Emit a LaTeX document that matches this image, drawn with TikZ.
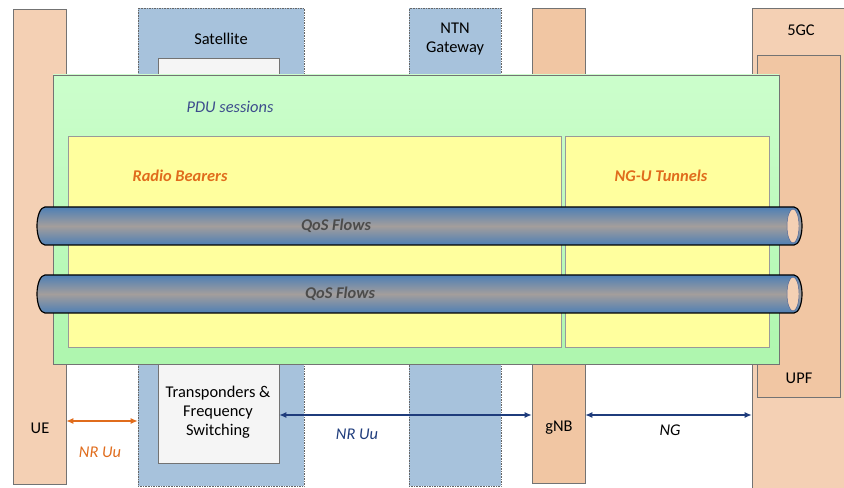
\documentclass[tikz,border=0pt]{standalone}
\usepackage{fontspec}
\setmainfont{Carlito}
\usetikzlibrary{fit}
\usetikzlibrary{arrows.meta}
\usetikzlibrary{shadows}

\definecolor{peach}{HTML}{F4D0B4}
\definecolor{peachdark}{HTML}{F1C6A3}
\definecolor{satblue}{HTML}{A7C2DC}
\definecolor{pdugreen}{HTML}{CCFECC}
\definecolor{pdugreendark}{HTML}{AEF6AE}
\definecolor{bearyellow}{HTML}{FFFF9E}
\definecolor{tubeblue}{HTML}{4E7FB5}
\definecolor{tubegrey}{HTML}{A39E9C}
\definecolor{labelorange}{HTML}{E06C1C}
\definecolor{navy}{HTML}{1F3C7C}
\definecolor{pdutext}{HTML}{3C4B8C}

\begin{document}
\begin{tikzpicture}[x=0.03cm, y=0.03cm,
    txt/.style={font=\fontsize{14}{16}\selectfont, align=center, inner sep=1pt},
    nebox/.style={draw=black!55, inner sep=0pt, drop shadow={shadow xshift=1pt, shadow yshift=-1pt, fill=black!45, opacity=0.7}},
    satbox/.style={draw=black!60, densely dotted, fill=satblue, inner sep=0pt},
    bearbox/.style={draw=black!40, fill=bearyellow, inner sep=0pt},
    tube/.style={draw=black, line width=1pt, top color=tubeblue, bottom color=tubeblue, middle color=tubegrey},
    itl/.style={font=\fontsize{14}{16}\selectfont\itshape, inner sep=1pt},
    hdr/.style={font=\fontsize{14}{16}\selectfont\bfseries\itshape, text=labelorange, inner sep=1pt},
    flow/.style={font=\fontsize{14}{16}\selectfont\bfseries\itshape, text=black!70, inner sep=1pt},
    link/.style={arrows={Latex[length=6pt,width=5pt]-Latex[length=6pt,width=5pt]}, line width=1pt}]
    \useasboundingbox (0,0) rectangle (844,-488);

    % network elements
    \node [nebox, fill=peach, fit={(13,-9) (66,-484)}] (ue) {};
    \node [satbox, fit={(138,-8) (304,-486)}] (sat) {};
    \node [satbox, fit={(409,-8) (501,-486)}] (gw) {};
    \node [nebox, fill=peachdark, fit={(532,-8) (585,-483)}] (gnb) {};
    \node [nebox, fill=peach, fit={(752,-8) (850,-495)}] (core) {};
    \node [nebox, fill=peachdark, fit={(757,-55) (840,-397)}] (upf) {};
    \node [nebox, fill=black!4, fit={(158,-58) (279,-463)}] (trans) {};

    \node [txt] (uetxt) at (40,-428) {UE};
    \node [txt] (sattxt) at (221,-39) {Satellite};
    \node [txt] (gwtxt) at (455,-39) {NTN\\Gateway};
    \node [txt] (gnbtxt) at (559,-428) {gNB};
    \node [txt] (coretxt) at (801,-30) {5GC};
    \node [txt] (upftxt) at (799,-378) {UPF};
    \node [txt] (transtxt) at (218,-412) {Transponders \&\\Frequency\\Switching};

    % PDU session and bearers
    \node [draw=black!55, inner sep=0pt, top color=pdugreen, bottom color=pdugreendark, fit={(53,-75) (779,-364)}] (pdu) {};
    \node [itl, text=pdutext] (pdutxt) at (230,-107) {PDU sessions};
    \node [bearbox, fit={(68,-136) (561,-347)}] (rb) {};
    \node [bearbox, fit={(565,-136) (769,-347)}] (ngu) {};
    \node [hdr] (rbtxt) at (180,-176) {Radio Bearers};
    \node [hdr] (ngutxt) at (661,-176) {NG-U Tunnels};

    % QoS flow tubes
    \foreach \y/\lx/\n in {226/336/1, 294/340/2} {
        \path [tube] (45,-\y+19) -- (794,-\y+19) arc [start angle=90, end angle=-90, x radius=8, y radius=19] -- (45,-\y-19) arc [start angle=270, end angle=90, x radius=8, y radius=19] -- cycle;
        \draw [draw=navy!80, fill=peach] (793,-\y) ellipse [x radius=6, y radius=17];
        \node [flow] (qos\n) at (\lx,-\y) {QoS Flows};
    }

    % interfaces
    \coordinate (uuy) at (0,-421);
    \coordinate (ngy) at (0,-415);
    \draw [link, draw=labelorange] (ue.east |- uuy) -- (sat.west |- uuy);
    \draw [link, draw=navy] (trans.east |- ngy) -- (gnb.west |- ngy);
    \draw [link, draw=navy] (gnb.east |- ngy) -- (core.west |- ngy);
    \node [itl, text=labelorange] (uutxt) at (100,-452) {NR Uu};
    \node [itl, text=navy] (nrtxt) at (357,-434) {NR Uu};
    \node [itl] (ngtxt) at (670,-430) {NG};
\end{tikzpicture}
\end{document}
